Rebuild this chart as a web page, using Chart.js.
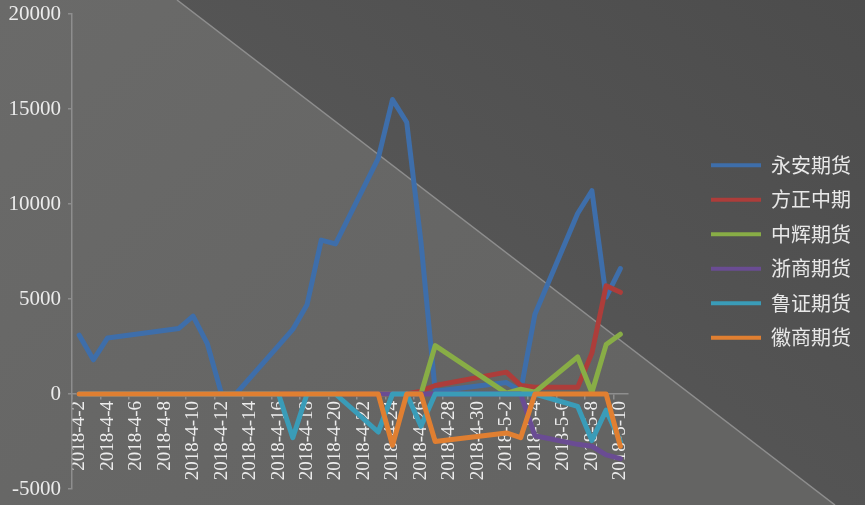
<!DOCTYPE html>
<html>
<head>
<meta charset="utf-8">
<script src="https://cdn.jsdelivr.net/npm/chart.js@4.4.0/dist/chart.umd.min.js"></script>
<style>
  html, body { margin: 0; padding: 0; background: #5e5e5e; }
  #wrap { width: 865px; height: 505px; position: relative; }
</style>
</head>
<body>
<div id="wrap"><canvas id="myChart"></canvas></div>
<script>
// every calendar day; null = no trading that day (line bridges the gap)
var dates = ["2018-4-2", "2018-4-3", "2018-4-4", "2018-4-5", "2018-4-6", "2018-4-7", "2018-4-8",
  "2018-4-9", "2018-4-10", "2018-4-11", "2018-4-12", "2018-4-13", "2018-4-14", "2018-4-15",
  "2018-4-16", "2018-4-17", "2018-4-18", "2018-4-19", "2018-4-20", "2018-4-21", "2018-4-22",
  "2018-4-23", "2018-4-24", "2018-4-25", "2018-4-26", "2018-4-27", "2018-4-28", "2018-4-29",
  "2018-4-30", "2018-5-1", "2018-5-2", "2018-5-3", "2018-5-4", "2018-5-5", "2018-5-6",
  "2018-5-7", "2018-5-8", "2018-5-9", "2018-5-10"];

var yongan   = [3100, 1800, 2950, null, null, null, null, 3450, 4100, 2650, 0, 0, null, null,
  2550, 3400, 4700, 8100, 7900, null, null, 12400, 15500, 14300, 8000, 150, null, null, null, null,
  600, 150, 4200, null, null, 9500, 10700, 5100, 6600];
var fangzheng = [0, 0, 0, null, null, null, null, 0, 0, 0, 0, 0, null, null,
  0, 0, 0, 0, 0, null, null, 0, 0, 0, 150, 450, null, null, null, null,
  1150, 450, 350, null, null, 350, 2150, 5700, 5350];
var zhonghui = [0, 0, 0, null, null, null, null, 0, 0, 0, 0, 0, null, null,
  0, 0, 0, 0, 0, null, null, 0, 0, 0, 0, 2550, null, null, null, null,
  50, 250, 100, null, null, 1950, 80, 2600, 3150];
var zheshang = [0, 0, 0, null, null, null, null, 0, 0, 0, 0, 0, null, null,
  0, 0, 0, 0, 0, null, null, 0, 0, 0, 0, 0, null, null, null, null,
  0, 0, -2200, null, null, -2650, -2750, -3200, -3400];
var luzheng = [0, 0, 0, null, null, null, null, 0, 0, 0, 0, 0, null, null,
  0, -2300, 0, 0, 0, null, null, -2000, 0, 0, -1700, 0, null, null, null, null,
  0, 0, 0, null, null, -650, -2450, -850, -2500];
var huishang = [0, 0, 0, null, null, null, null, 0, 0, 0, 0, 0, null, null,
  0, 0, 0, 0, 0, null, null, 0, -2700, 0, 0, -2500, null, null, null, null,
  -2050, -2300, 0, null, null, 0, 0, 0, -2750];

var seriesNames = ["永安期货", "方正中期", "中辉期货", "浙商期货", "鲁证期货", "徽商期货"];
var seriesData = [yongan, fangzheng, zhonghui, zheshang, luzheng, huishang];
var seriesColors = ["#3e6eaa", "#ad3d3a", "#88ad46", "#6a4c93", "#3a9cb8", "#e07f31"];
var yTicks = [-5000, 0, 5000, 10000, 15000, 20000];

// grey backdrop with the lighter diagonal panel
var backdrop = {
  id: 'backdrop',
  beforeDraw: function(chart) {
    var c = chart.ctx, w = chart.width, h = chart.height;
    c.save();
    var g = c.createLinearGradient(w, 0, 450, h);
    g.addColorStop(0, '#4c4c4c');
    g.addColorStop(1, '#595959');
    c.fillStyle = g;
    c.fillRect(0, 0, w, h);
    var g2 = c.createLinearGradient(0, 0, 500, h);
    g2.addColorStop(0, '#6a6a69');
    g2.addColorStop(1, '#646463');
    c.beginPath();
    c.moveTo(0, 0);
    c.lineTo(177, 0);
    c.lineTo(835, h);
    c.lineTo(0, h);
    c.closePath();
    c.fillStyle = g2;
    c.fill();
    c.beginPath();
    c.moveTo(177, 0);
    c.lineTo(835, h);
    c.strokeStyle = '#8e8e8e';
    c.lineWidth = 1.5;
    c.stroke();
    c.restore();
  }
};

var datasets = seriesNames.map(function(name, i) {
  return {
    label: name,
    data: seriesData[i],
    borderColor: seriesColors[i],
    backgroundColor: seriesColors[i],
    borderWidth: 5,
    borderJoinStyle: 'round',
    borderCapStyle: 'round',
    pointRadius: 0,
    tension: 0,
    spanGaps: true,
    order: seriesNames.length - i
  };
});

var axisGrey = '#8e8e8e';
var tickColor = '#ececec';

var ctx = document.getElementById("myChart");

var myChart = new Chart(ctx, {
  type: 'line',
  data: {
    labels: dates,
    datasets: datasets
  },
  plugins: [backdrop],
  options: {
    responsive: true,
    maintainAspectRatio: false,
    animation: false,
    layout: {
      padding: { left: 0, right: 4, top: 14, bottom: 16 }
    },
    plugins: {
      tooltip: { enabled: false },
      legend: {
        position: 'right',
        align: 'center',
        maxWidth: 180,
        labels: {
          usePointStyle: true,
          pointStyle: 'line',
          pointStyleWidth: 50,
          padding: 14.5,
          color: '#e8e8e8',
          font: { family: '"Noto Sans CJK SC"', size: 20 },
          sort: function(a, b) { return a.datasetIndex - b.datasetIndex; },
          generateLabels: function(chart) {
            var items = Chart.defaults.plugins.legend.labels.generateLabels(chart);
            items.forEach(function(it) { it.lineWidth = 4; });
            return items;
          }
        }
      }
    },
    scales: {
      x: {
        type: 'category',
        position: { y: 0 },
        offset: true,
        grid: {
          drawOnChartArea: false,
          offset: true,
          tickLength: 5,
          lineWidth: 1.5,
          color: function(c) { return c.index % 2 === 0 ? axisGrey : 'rgba(0,0,0,0)'; }
        },
        border: { color: axisGrey, width: 1.5 },
        ticks: {
          autoSkip: false,
          minRotation: 90,
          maxRotation: 90,
          padding: 2,
          color: tickColor,
          font: { family: '"Liberation Serif"', size: 19 },
          callback: function(value, index) {
            return index % 2 === 0 ? this.getLabelForValue(value) : '';
          }
        }
      },
      y: {
        min: -5000,
        max: 20000,
        afterBuildTicks: function(scale) {
          scale.ticks = yTicks.map(function(v) { return { value: v }; });
        },
        afterFit: function(scale) {
          scale.width = 72;
          scale.paddingTop = 0;
          scale.paddingBottom = 0;
        },
        grid: { drawOnChartArea: false, tickLength: 4, color: axisGrey, lineWidth: 1.5 },
        border: { color: axisGrey, width: 1.5 },
        ticks: {
          padding: 7,
          color: tickColor,
          font: { family: '"Liberation Serif"', size: 21 },
          callback: function(value) { return String(value); }
        }
      },
      yRight: {
        position: 'right',
        grid: { display: false },
        border: { display: false },
        ticks: { display: false },
        afterFit: function(scale) { scale.width = 69; }
      }
    }
  }
});
</script>
</body>
</html>
